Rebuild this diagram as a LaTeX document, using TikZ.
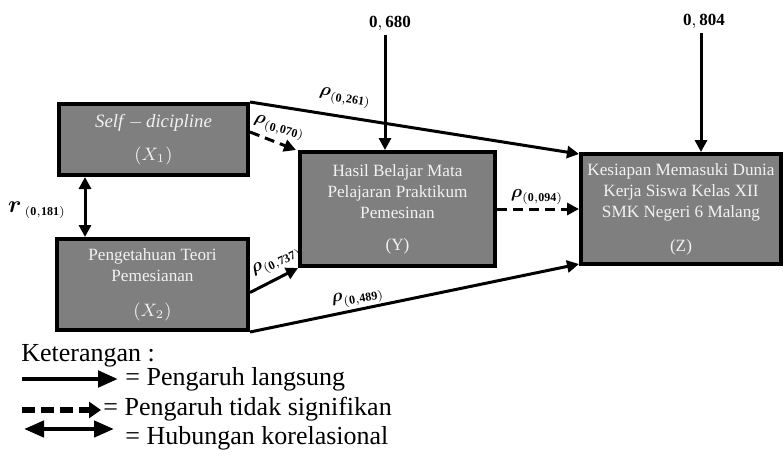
\documentclass[tikz,border=0pt]{standalone}
\usepackage{amsmath}
\usepackage{fontspec}
\setmainfont{Liberation Serif}
\usetikzlibrary{arrows.meta,calc}
\definecolor{boxgray}{RGB}{127,127,127}
\definecolor{boxtext}{RGB}{242,242,242}
\begin{document}
\begin{tikzpicture}[x=0.5pt,y=-0.5pt,
  box/.style={draw=black,line width=2pt,fill=boxgray,text=boxtext,align=center,
    font=\fontsize{8.6}{10.5}\selectfont,inner sep=0pt},
  arr/.style={line width=1.5pt,-{Triangle[length=6pt,width=6pt]}},
  darr/.style={arr,dash pattern=on 5pt off 3pt},
  dbl/.style={line width=1.5pt,{Triangle[length=6pt,width=6pt]}-{Triangle[length=6pt,width=6pt]}},
  lab/.style={font=\fontsize{9}{10}\selectfont,inner sep=0pt},
  ext/.style={font=\fontsize{8.5}{10}\selectfont,inner sep=2pt},
  leg/.style={font=\fontsize{13}{15}\selectfont,inner sep=0pt,anchor=base west}]
\useasboundingbox (0,0) rectangle (784,457);

% boxes
\node[box,minimum width=94.5pt,minimum height=35.5pt] (X1) at (153.5,139.5)
  {{\fontsize{9.4}{10.5}\selectfont\textit{Self}\,$-$\,\textit{dicipline}}\\[6pt]$(X_1)$};
\node[box,minimum width=95.5pt,minimum height=45.5pt] (X2) at (152.5,284.5)
  {Pengetahuan Teori\\Pemesianan\\[7pt]$(X_2)$};
\node[box,minimum width=97.5pt,minimum height=57pt] (Y) at (397.5,209)
  {Hasil Belajar Mata\\Pelajaran Praktikum\\Pemesinan\\[5.5pt](Y)};
\node[box,minimum width=100pt,minimum height=55pt] (Z) at (681,209)
  {Kesiapan Memasuki Dunia\\Kerja Siswa Kelas XII\\SMK Negeri 6 Malang\\[6.5pt](Z)};

% error terms
\node[ext] (e680) at (390,23) {$\mathbf{0,680}$};
\node[ext] (e804) at (704,21) {$\mathbf{0,804}$};
\coordinate (a680) at ([xshift=-2.5pt]e680.south);
\coordinate (a804) at ([xshift=-1.5pt]e804.south);
\draw[arr] (a680) -- (a680 |- Y.north);
\draw[arr] (a804) -- (a804 |- Z.north);

% paths
\draw[arr] (X1.north east) -- ([yshift=-1pt]Z.north west);
\draw[darr] ([yshift=-15pt]X1.north east) -- ([xshift=-1pt]Y.north west);
\draw[darr] (Y.east) -- (Z.west);
\draw[arr] ([yshift=-4pt]X2.east) -- (Y.south west);
\draw[arr] (X2.south east) -- ([yshift=1pt]Z.south west);
\coordinate (c1) at ([xshift=14pt]X1.south west);
\draw[dbl] (c1) -- (c1 |- X2.north);

% coefficient labels
\node[lab,rotate=-9] (l261) at (345,98) {$\boldsymbol{\rho}_{\mathbf{(0{,}261)}}$};
\node[lab,rotate=-15] (l070) at (279,128) {$\boldsymbol{\rho}_{\mathbf{(0{,}070)}}$};
\node[lab] (l094) at (537,197) {$\boldsymbol{\rho}_{\mathbf{(0{,}094)}}$};
\node[lab,rotate=25] (l737) at (277,262) {$\boldsymbol{\rho}_{\mathbf{(0{,}737)}}$};
\node[lab,rotate=10] (l489) at (358,298) {$\boldsymbol{\rho}_{\mathbf{(0{,}489)}}$};
\node[lab] (l181) at (37,210)
  {{\fontsize{12}{12}\selectfont$\boldsymbol{r}$}\,{\fontsize{9}{10}\selectfont$\mathbf{{}_{(0{,}181)}}$}};

% legend
\node[leg] (ket) at (21,361) {Keterangan :};
\coordinate (s1) at (22,379); \coordinate (s1e) at (118,379);
\draw[line width=2.4pt,-{Triangle[length=10pt,width=8pt]}] (s1) -- (s1e);
\node[leg] (t1) at (125,385) {= Pengaruh langsung};
\coordinate (s2) at (22,410); \coordinate (s2e) at (101,410);
\draw[line width=3pt,dash pattern=on 6.5pt off 3pt,-{Triangle[length=6pt,width=8pt]}] (s2) -- (s2e);
\node[leg] (t2) at (103,415) {= Pengaruh tidak signifikan};
\coordinate (s3) at (24,429); \coordinate (s3e) at (114,429);
\draw[line width=2.2pt,{Triangle[length=10pt,width=8pt]}-{Triangle[length=10pt,width=8pt]}] (s3) -- (s3e);
\node[leg] (t3) at (125,444) {= Hubungan korelasional};
\end{tikzpicture}
\end{document}
